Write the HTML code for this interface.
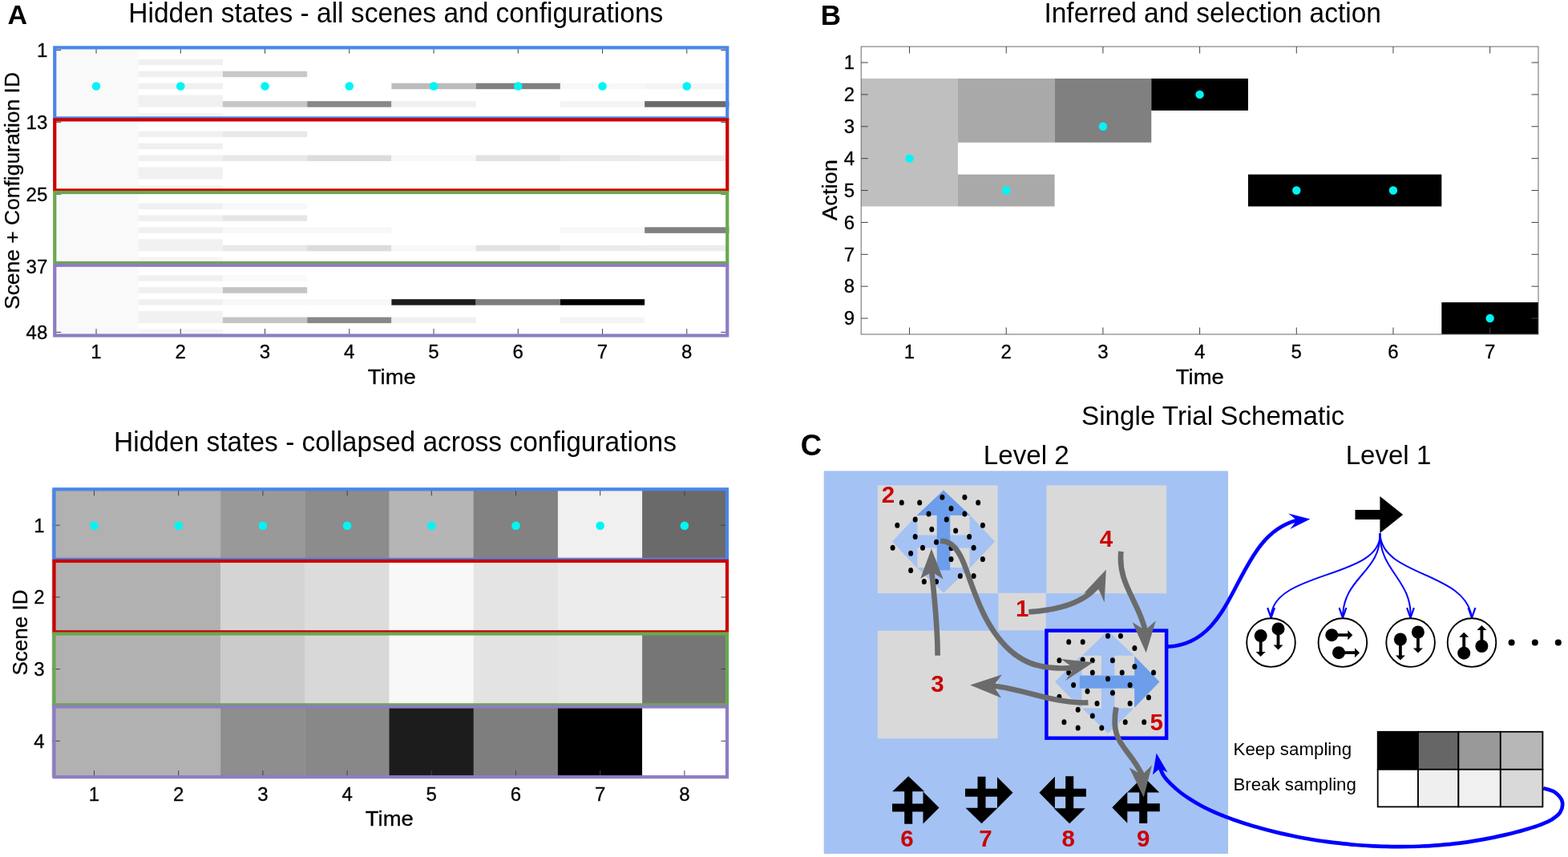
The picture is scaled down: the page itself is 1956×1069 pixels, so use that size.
<!DOCTYPE html>
<html lang="en">
<head>
<meta charset="utf-8">
<title>Hidden states, inferred actions and single trial schematic</title>
<style>
html,body{margin:0;padding:0;background:#fff;}
body{width:1956px;height:1069px;overflow:hidden;}
svg{display:block;font-family:"Liberation Sans",sans-serif;}
</style>
</head>
<body>
<svg width="1956" height="1069" viewBox="0 0 1956 1069">
<rect width="1956" height="1069" fill="#fff"/>
<g id="panelA-top">
<rect x="67.40" y="58.80" width="105.25" height="359.30" fill="#f9f9f9"/>
<rect x="172.65" y="73.77" width="105.25" height="7.49" fill="#f0f0f0"/>
<rect x="172.65" y="88.74" width="105.25" height="7.49" fill="#f0f0f0"/>
<rect x="277.90" y="88.74" width="105.25" height="7.49" fill="#c8c8c8"/>
<rect x="172.65" y="103.71" width="105.25" height="7.49" fill="#f0f0f0"/>
<rect x="488.40" y="103.71" width="105.25" height="7.49" fill="#bcbcbc"/>
<rect x="593.65" y="103.71" width="105.25" height="7.49" fill="#808080"/>
<rect x="698.90" y="103.71" width="105.25" height="7.49" fill="#f8f8f8"/>
<rect x="804.15" y="103.71" width="105.25" height="7.49" fill="#f4f4f4"/>
<rect x="172.65" y="118.68" width="105.25" height="14.97" fill="#f1f1f1"/>
<rect x="277.90" y="126.17" width="105.25" height="7.49" fill="#c6c6c6"/>
<rect x="383.15" y="126.17" width="105.25" height="7.49" fill="#888888"/>
<rect x="488.40" y="126.17" width="105.25" height="7.49" fill="#f0f0f0"/>
<rect x="698.90" y="126.17" width="105.25" height="7.49" fill="#f4f4f4"/>
<rect x="804.15" y="126.17" width="105.25" height="7.49" fill="#6a6a6a"/>
<rect x="172.65" y="141.14" width="105.25" height="7.49" fill="#f5f5f5"/>
<rect x="172.65" y="163.60" width="105.25" height="7.49" fill="#f0f0f0"/>
<rect x="277.90" y="163.60" width="105.25" height="7.49" fill="#e8e8e8"/>
<rect x="172.65" y="178.57" width="105.25" height="7.49" fill="#f0f0f0"/>
<rect x="172.65" y="193.54" width="105.25" height="7.49" fill="#f0f0f0"/>
<rect x="277.90" y="193.54" width="105.25" height="7.49" fill="#e8e8e8"/>
<rect x="383.15" y="193.54" width="105.25" height="7.49" fill="#dcdcdc"/>
<rect x="488.40" y="193.54" width="105.25" height="7.49" fill="#f8f8f8"/>
<rect x="593.65" y="193.54" width="105.25" height="7.49" fill="#e2e2e2"/>
<rect x="698.90" y="193.54" width="105.25" height="7.49" fill="#ebebeb"/>
<rect x="804.15" y="193.54" width="105.25" height="7.49" fill="#ececec"/>
<rect x="172.65" y="208.51" width="105.25" height="14.97" fill="#f1f1f1"/>
<rect x="172.65" y="230.96" width="105.25" height="7.49" fill="#f5f5f5"/>
<rect x="172.65" y="253.42" width="105.25" height="7.49" fill="#f0f0f0"/>
<rect x="277.90" y="253.42" width="105.25" height="7.49" fill="#f8f8f8"/>
<rect x="172.65" y="268.39" width="105.25" height="7.49" fill="#f0f0f0"/>
<rect x="277.90" y="268.39" width="105.25" height="7.49" fill="#e6e6e6"/>
<rect x="172.65" y="283.36" width="105.25" height="7.49" fill="#f0f0f0"/>
<rect x="277.90" y="283.36" width="105.25" height="7.49" fill="#f8f8f8"/>
<rect x="383.15" y="283.36" width="105.25" height="7.49" fill="#f8f8f8"/>
<rect x="698.90" y="283.36" width="105.25" height="7.49" fill="#f8f8f8"/>
<rect x="804.15" y="283.36" width="105.25" height="7.49" fill="#808080"/>
<rect x="172.65" y="298.33" width="105.25" height="14.97" fill="#f1f1f1"/>
<rect x="277.90" y="305.82" width="105.25" height="7.49" fill="#e8e8e8"/>
<rect x="383.15" y="305.82" width="105.25" height="7.49" fill="#dcdcdc"/>
<rect x="488.40" y="305.82" width="105.25" height="7.49" fill="#f8f8f8"/>
<rect x="593.65" y="305.82" width="105.25" height="7.49" fill="#e2e2e2"/>
<rect x="698.90" y="305.82" width="105.25" height="7.49" fill="#ebebeb"/>
<rect x="804.15" y="305.82" width="105.25" height="7.49" fill="#ececec"/>
<rect x="172.65" y="320.79" width="105.25" height="7.49" fill="#f5f5f5"/>
<rect x="172.65" y="343.25" width="105.25" height="7.49" fill="#f0f0f0"/>
<rect x="277.90" y="343.25" width="105.25" height="7.49" fill="#f9f9f9"/>
<rect x="172.65" y="358.22" width="105.25" height="7.49" fill="#f0f0f0"/>
<rect x="277.90" y="358.22" width="105.25" height="7.49" fill="#c4c4c4"/>
<rect x="172.65" y="373.19" width="105.25" height="7.49" fill="#f0f0f0"/>
<rect x="277.90" y="373.19" width="105.25" height="7.49" fill="#f8f8f8"/>
<rect x="383.15" y="373.19" width="105.25" height="7.49" fill="#f8f8f8"/>
<rect x="488.40" y="373.19" width="105.25" height="7.49" fill="#1c1c1c"/>
<rect x="593.65" y="373.19" width="105.25" height="7.49" fill="#7c7c7c"/>
<rect x="698.90" y="373.19" width="105.25" height="7.49" fill="#000000"/>
<rect x="172.65" y="388.16" width="105.25" height="14.97" fill="#f1f1f1"/>
<rect x="277.90" y="395.64" width="105.25" height="7.49" fill="#c4c4c4"/>
<rect x="383.15" y="395.64" width="105.25" height="7.49" fill="#888888"/>
<rect x="488.40" y="395.64" width="105.25" height="7.49" fill="#f0f0f0"/>
<rect x="698.90" y="395.64" width="105.25" height="7.49" fill="#f4f4f4"/>
<rect x="172.65" y="410.61" width="105.25" height="7.49" fill="#f5f5f5"/>
<path d="M120.03 58.8v8M120.03 418.1v-8" stroke="#404040" stroke-width="1" fill="none"/>
<path d="M225.28 58.8v8M225.28 418.1v-8" stroke="#404040" stroke-width="1" fill="none"/>
<path d="M330.52 58.8v8M330.52 418.1v-8" stroke="#404040" stroke-width="1" fill="none"/>
<path d="M435.77 58.8v8M435.77 418.1v-8" stroke="#404040" stroke-width="1" fill="none"/>
<path d="M541.02 58.8v8M541.02 418.1v-8" stroke="#404040" stroke-width="1" fill="none"/>
<path d="M646.27 58.8v8M646.27 418.1v-8" stroke="#404040" stroke-width="1" fill="none"/>
<path d="M751.52 58.8v8M751.52 418.1v-8" stroke="#404040" stroke-width="1" fill="none"/>
<path d="M856.77 58.8v8M856.77 418.1v-8" stroke="#404040" stroke-width="1" fill="none"/>
<path d="M68.25 62.54h8M907.25 62.54h-8" stroke="#404040" stroke-width="1" fill="none"/>
<path d="M68.25 152.37h8M907.25 152.37h-8" stroke="#404040" stroke-width="1" fill="none"/>
<path d="M68.25 242.19h8M907.25 242.19h-8" stroke="#404040" stroke-width="1" fill="none"/>
<path d="M68.25 332.02h8M907.25 332.02h-8" stroke="#404040" stroke-width="1" fill="none"/>
<path d="M68.25 414.36h8M907.25 414.36h-8" stroke="#404040" stroke-width="1" fill="none"/>
<circle cx="120.03" cy="107.46" r="5.3" fill="#00f5f5"/>
<circle cx="225.28" cy="107.46" r="5.3" fill="#00f5f5"/>
<circle cx="330.52" cy="107.46" r="5.3" fill="#00f5f5"/>
<circle cx="435.77" cy="107.46" r="5.3" fill="#00f5f5"/>
<circle cx="541.02" cy="107.46" r="5.3" fill="#00f5f5"/>
<circle cx="646.27" cy="107.46" r="5.3" fill="#00f5f5"/>
<circle cx="751.52" cy="107.46" r="5.3" fill="#00f5f5"/>
<circle cx="856.77" cy="107.46" r="5.3" fill="#00f5f5"/>
<rect x="68.25" y="59.4" width="839.0" height="88.0" fill="none" stroke="#4a86e8" stroke-width="4.2"/>
<rect x="68.25" y="149.4" width="839.0" height="88.0" fill="none" stroke="#cc0000" stroke-width="4.2"/>
<rect x="68.25" y="240" width="839.0" height="88" fill="none" stroke="#6aa84f" stroke-width="4.2"/>
<rect x="68.25" y="330.8" width="839.0" height="87.69999999999999" fill="none" stroke="#8e7cc3" stroke-width="4.2"/>
<text x="120.03" y="447.1" font-size="24" text-anchor="middle" font-weight="normal" fill="#000" stroke="#000" stroke-width="0.3">1</text>
<text x="225.28" y="447.1" font-size="24" text-anchor="middle" font-weight="normal" fill="#000" stroke="#000" stroke-width="0.3">2</text>
<text x="330.52" y="447.1" font-size="24" text-anchor="middle" font-weight="normal" fill="#000" stroke="#000" stroke-width="0.3">3</text>
<text x="435.77" y="447.1" font-size="24" text-anchor="middle" font-weight="normal" fill="#000" stroke="#000" stroke-width="0.3">4</text>
<text x="541.02" y="447.1" font-size="24" text-anchor="middle" font-weight="normal" fill="#000" stroke="#000" stroke-width="0.3">5</text>
<text x="646.27" y="447.1" font-size="24" text-anchor="middle" font-weight="normal" fill="#000" stroke="#000" stroke-width="0.3">6</text>
<text x="751.52" y="447.1" font-size="24" text-anchor="middle" font-weight="normal" fill="#000" stroke="#000" stroke-width="0.3">7</text>
<text x="856.77" y="447.1" font-size="24" text-anchor="middle" font-weight="normal" fill="#000" stroke="#000" stroke-width="0.3">8</text>
<text x="59.3" y="71.14" font-size="24" text-anchor="end" font-weight="normal" fill="#000" stroke="#000" stroke-width="0.3">1</text>
<text x="59.3" y="160.97" font-size="24" text-anchor="end" font-weight="normal" fill="#000" stroke="#000" stroke-width="0.3">13</text>
<text x="59.3" y="250.79" font-size="24" text-anchor="end" font-weight="normal" fill="#000" stroke="#000" stroke-width="0.3">25</text>
<text x="59.3" y="340.62" font-size="24" text-anchor="end" font-weight="normal" fill="#000" stroke="#000" stroke-width="0.3">37</text>
<text x="59.3" y="422.96" font-size="24" text-anchor="end" font-weight="normal" fill="#000" stroke="#000" stroke-width="0.3">48</text>
<text x="488.8" y="478.8" font-size="26" text-anchor="middle" font-weight="normal" fill="#000" textLength="60" lengthAdjust="spacingAndGlyphs" stroke="#000" stroke-width="0.3">Time</text>
<text transform="translate(24,238) rotate(-90)" font-size="26.5" stroke="#000" stroke-width="0.3" text-anchor="middle" textLength="296" lengthAdjust="spacingAndGlyphs">Scene + Configuration ID</text>
<text x="493.8" y="28" font-size="34.2" text-anchor="middle" font-weight="normal" fill="#000" textLength="667" lengthAdjust="spacingAndGlyphs">Hidden states - all scenes and configurations</text>
<text x="21.8" y="29.6" font-size="34" text-anchor="middle" font-weight="bold" fill="#000">A</text>
</g>
<g id="panelA-bottom">
<rect x="64.70" y="610.10" width="105.60" height="90.13" fill="#b1b1b1"/>
<rect x="169.90" y="610.10" width="105.60" height="90.13" fill="#b1b1b1"/>
<rect x="275.10" y="610.10" width="105.60" height="90.13" fill="#999999"/>
<rect x="380.30" y="610.10" width="105.60" height="90.13" fill="#8c8c8c"/>
<rect x="485.50" y="610.10" width="105.60" height="90.13" fill="#b5b5b5"/>
<rect x="590.70" y="610.10" width="105.60" height="90.13" fill="#828282"/>
<rect x="695.90" y="610.10" width="105.60" height="90.13" fill="#f0f0f0"/>
<rect x="801.10" y="610.10" width="105.60" height="90.13" fill="#6a6a6a"/>
<rect x="64.70" y="699.82" width="105.60" height="90.13" fill="#b1b1b1"/>
<rect x="169.90" y="699.82" width="105.60" height="90.13" fill="#b1b1b1"/>
<rect x="275.10" y="699.82" width="105.60" height="90.13" fill="#d4d4d4"/>
<rect x="380.30" y="699.82" width="105.60" height="90.13" fill="#dcdcdc"/>
<rect x="485.50" y="699.82" width="105.60" height="90.13" fill="#f8f8f8"/>
<rect x="590.70" y="699.82" width="105.60" height="90.13" fill="#e4e4e4"/>
<rect x="695.90" y="699.82" width="105.60" height="90.13" fill="#ececec"/>
<rect x="801.10" y="699.82" width="105.60" height="90.13" fill="#ededed"/>
<rect x="64.70" y="789.55" width="105.60" height="90.13" fill="#b1b1b1"/>
<rect x="169.90" y="789.55" width="105.60" height="90.13" fill="#b1b1b1"/>
<rect x="275.10" y="789.55" width="105.60" height="90.13" fill="#cbcbcb"/>
<rect x="380.30" y="789.55" width="105.60" height="90.13" fill="#d8d8d8"/>
<rect x="485.50" y="789.55" width="105.60" height="90.13" fill="#f8f8f8"/>
<rect x="590.70" y="789.55" width="105.60" height="90.13" fill="#e3e3e3"/>
<rect x="695.90" y="789.55" width="105.60" height="90.13" fill="#e6e6e6"/>
<rect x="801.10" y="789.55" width="105.60" height="90.13" fill="#767676"/>
<rect x="64.70" y="879.27" width="105.60" height="90.13" fill="#b1b1b1"/>
<rect x="169.90" y="879.27" width="105.60" height="90.13" fill="#b1b1b1"/>
<rect x="275.10" y="879.27" width="105.60" height="90.13" fill="#8e8e8e"/>
<rect x="380.30" y="879.27" width="105.60" height="90.13" fill="#888888"/>
<rect x="485.50" y="879.27" width="105.60" height="90.13" fill="#1c1c1c"/>
<rect x="590.70" y="879.27" width="105.60" height="90.13" fill="#7e7e7e"/>
<rect x="695.90" y="879.27" width="105.60" height="90.13" fill="#000000"/>
<rect x="801.10" y="879.27" width="105.60" height="90.13" fill="#ffffff"/>
<path d="M117.50 610.3v8M117.50 969.2v-8" stroke="#404040" stroke-width="1" fill="none"/>
<path d="M222.70 610.3v8M222.70 969.2v-8" stroke="#404040" stroke-width="1" fill="none"/>
<path d="M327.90 610.3v8M327.90 969.2v-8" stroke="#404040" stroke-width="1" fill="none"/>
<path d="M433.10 610.3v8M433.10 969.2v-8" stroke="#404040" stroke-width="1" fill="none"/>
<path d="M538.30 610.3v8M538.30 969.2v-8" stroke="#404040" stroke-width="1" fill="none"/>
<path d="M643.50 610.3v8M643.50 969.2v-8" stroke="#404040" stroke-width="1" fill="none"/>
<path d="M748.70 610.3v8M748.70 969.2v-8" stroke="#404040" stroke-width="1" fill="none"/>
<path d="M853.90 610.3v8M853.90 969.2v-8" stroke="#404040" stroke-width="1" fill="none"/>
<path d="M64.9 655.16h10M907.5 655.16h-8" stroke="#404040" stroke-width="1" fill="none"/>
<path d="M64.9 744.89h10M907.5 744.89h-8" stroke="#404040" stroke-width="1" fill="none"/>
<path d="M64.9 834.61h10M907.5 834.61h-8" stroke="#404040" stroke-width="1" fill="none"/>
<path d="M64.9 924.34h10M907.5 924.34h-8" stroke="#404040" stroke-width="1" fill="none"/>
<circle cx="117.50" cy="655.8" r="5.3" fill="#00f5f5"/>
<circle cx="222.70" cy="655.8" r="5.3" fill="#00f5f5"/>
<circle cx="327.90" cy="655.8" r="5.3" fill="#00f5f5"/>
<circle cx="433.10" cy="655.8" r="5.3" fill="#00f5f5"/>
<circle cx="538.30" cy="655.8" r="5.3" fill="#00f5f5"/>
<circle cx="643.50" cy="655.8" r="5.3" fill="#00f5f5"/>
<circle cx="748.70" cy="655.8" r="5.3" fill="#00f5f5"/>
<circle cx="853.90" cy="655.8" r="5.3" fill="#00f5f5"/>
<rect x="67.5" y="610.3" width="839.5" height="87.5" fill="none" stroke="#4a86e8" stroke-width="4.2"/>
<rect x="67.5" y="699.8" width="839.5" height="88.5" fill="none" stroke="#cc0000" stroke-width="4.2"/>
<rect x="67.5" y="790.5" width="839.5" height="88.79999999999995" fill="none" stroke="#6aa84f" stroke-width="4.2"/>
<rect x="67.5" y="881.5" width="839.5" height="87.70000000000005" fill="none" stroke="#8e7cc3" stroke-width="4.2"/>
<text x="117.50" y="999.3" font-size="24" text-anchor="middle" font-weight="normal" fill="#000" stroke="#000" stroke-width="0.3">1</text>
<text x="222.70" y="999.3" font-size="24" text-anchor="middle" font-weight="normal" fill="#000" stroke="#000" stroke-width="0.3">2</text>
<text x="327.90" y="999.3" font-size="24" text-anchor="middle" font-weight="normal" fill="#000" stroke="#000" stroke-width="0.3">3</text>
<text x="433.10" y="999.3" font-size="24" text-anchor="middle" font-weight="normal" fill="#000" stroke="#000" stroke-width="0.3">4</text>
<text x="538.30" y="999.3" font-size="24" text-anchor="middle" font-weight="normal" fill="#000" stroke="#000" stroke-width="0.3">5</text>
<text x="643.50" y="999.3" font-size="24" text-anchor="middle" font-weight="normal" fill="#000" stroke="#000" stroke-width="0.3">6</text>
<text x="748.70" y="999.3" font-size="24" text-anchor="middle" font-weight="normal" fill="#000" stroke="#000" stroke-width="0.3">7</text>
<text x="853.90" y="999.3" font-size="24" text-anchor="middle" font-weight="normal" fill="#000" stroke="#000" stroke-width="0.3">8</text>
<text x="55.5" y="663.76" font-size="24" text-anchor="end" font-weight="normal" fill="#000" stroke="#000" stroke-width="0.3">1</text>
<text x="55.5" y="753.49" font-size="24" text-anchor="end" font-weight="normal" fill="#000" stroke="#000" stroke-width="0.3">2</text>
<text x="55.5" y="843.21" font-size="24" text-anchor="end" font-weight="normal" fill="#000" stroke="#000" stroke-width="0.3">3</text>
<text x="55.5" y="932.94" font-size="24" text-anchor="end" font-weight="normal" fill="#000" stroke="#000" stroke-width="0.3">4</text>
<text x="485.8" y="1030.3" font-size="26" text-anchor="middle" font-weight="normal" fill="#000" textLength="60" lengthAdjust="spacingAndGlyphs" stroke="#000" stroke-width="0.3">Time</text>
<text transform="translate(33.5,789) rotate(-90)" font-size="26.5" stroke="#000" stroke-width="0.3" text-anchor="middle" textLength="107" lengthAdjust="spacingAndGlyphs">Scene ID</text>
<text x="493" y="563.3" font-size="34.2" text-anchor="middle" font-weight="normal" fill="#000" textLength="702" lengthAdjust="spacingAndGlyphs">Hidden states - collapsed across configurations</text>
</g>
<g id="panelB">
<rect x="1074.20" y="97.98" width="120.69" height="159.51" fill="#bfbfbf"/>
<rect x="1194.89" y="97.98" width="120.69" height="79.76" fill="#a9a9a9"/>
<rect x="1194.89" y="217.61" width="120.69" height="39.88" fill="#a9a9a9"/>
<rect x="1315.57" y="97.98" width="120.69" height="79.76" fill="#808080"/>
<rect x="1436.26" y="97.98" width="120.69" height="39.88" fill="#000"/>
<rect x="1556.94" y="217.61" width="241.37" height="39.88" fill="#000"/>
<rect x="1798.31" y="377.12" width="120.69" height="39.88" fill="#000"/>
<rect x="1074.2" y="58.1" width="844.8" height="358.9" fill="none" stroke="#6a6a6a" stroke-width="1"/>
<path d="M1134.54 58.1v8.5M1134.54 417.0v-8.5" stroke="#404040" stroke-width="1" fill="none"/>
<path d="M1255.23 58.1v8.5M1255.23 417.0v-8.5" stroke="#404040" stroke-width="1" fill="none"/>
<path d="M1375.91 58.1v8.5M1375.91 417.0v-8.5" stroke="#404040" stroke-width="1" fill="none"/>
<path d="M1496.60 58.1v8.5M1496.60 417.0v-8.5" stroke="#404040" stroke-width="1" fill="none"/>
<path d="M1617.29 58.1v8.5M1617.29 417.0v-8.5" stroke="#404040" stroke-width="1" fill="none"/>
<path d="M1737.97 58.1v8.5M1737.97 417.0v-8.5" stroke="#404040" stroke-width="1" fill="none"/>
<path d="M1858.66 58.1v8.5M1858.66 417.0v-8.5" stroke="#404040" stroke-width="1" fill="none"/>
<path d="M1074.2 78.04h8.5M1919.0 78.04h-8.5" stroke="#404040" stroke-width="1" fill="none"/>
<path d="M1074.2 117.92h8.5M1919.0 117.92h-8.5" stroke="#404040" stroke-width="1" fill="none"/>
<path d="M1074.2 157.79h8.5M1919.0 157.79h-8.5" stroke="#404040" stroke-width="1" fill="none"/>
<path d="M1074.2 197.67h8.5M1919.0 197.67h-8.5" stroke="#404040" stroke-width="1" fill="none"/>
<path d="M1074.2 237.55h8.5M1919.0 237.55h-8.5" stroke="#404040" stroke-width="1" fill="none"/>
<path d="M1074.2 277.43h8.5M1919.0 277.43h-8.5" stroke="#404040" stroke-width="1" fill="none"/>
<path d="M1074.2 317.31h8.5M1919.0 317.31h-8.5" stroke="#404040" stroke-width="1" fill="none"/>
<path d="M1074.2 357.18h8.5M1919.0 357.18h-8.5" stroke="#404040" stroke-width="1" fill="none"/>
<path d="M1074.2 397.06h8.5M1919.0 397.06h-8.5" stroke="#404040" stroke-width="1" fill="none"/>
<circle cx="1134.54" cy="197.67" r="5.2" fill="#00f5f5"/>
<circle cx="1255.23" cy="237.55" r="5.2" fill="#00f5f5"/>
<circle cx="1375.91" cy="157.79" r="5.2" fill="#00f5f5"/>
<circle cx="1496.60" cy="117.92" r="5.2" fill="#00f5f5"/>
<circle cx="1617.29" cy="237.55" r="5.2" fill="#00f5f5"/>
<circle cx="1737.97" cy="237.55" r="5.2" fill="#00f5f5"/>
<circle cx="1858.66" cy="397.06" r="5.2" fill="#00f5f5"/>
<text x="1134.54" y="447.1" font-size="24" text-anchor="middle" font-weight="normal" fill="#000" stroke="#000" stroke-width="0.3">1</text>
<text x="1255.23" y="447.1" font-size="24" text-anchor="middle" font-weight="normal" fill="#000" stroke="#000" stroke-width="0.3">2</text>
<text x="1375.91" y="447.1" font-size="24" text-anchor="middle" font-weight="normal" fill="#000" stroke="#000" stroke-width="0.3">3</text>
<text x="1496.60" y="447.1" font-size="24" text-anchor="middle" font-weight="normal" fill="#000" stroke="#000" stroke-width="0.3">4</text>
<text x="1617.29" y="447.1" font-size="24" text-anchor="middle" font-weight="normal" fill="#000" stroke="#000" stroke-width="0.3">5</text>
<text x="1737.97" y="447.1" font-size="24" text-anchor="middle" font-weight="normal" fill="#000" stroke="#000" stroke-width="0.3">6</text>
<text x="1858.66" y="447.1" font-size="24" text-anchor="middle" font-weight="normal" fill="#000" stroke="#000" stroke-width="0.3">7</text>
<text x="1066" y="86.34" font-size="24" text-anchor="end" font-weight="normal" fill="#000" stroke="#000" stroke-width="0.3">1</text>
<text x="1066" y="126.22" font-size="24" text-anchor="end" font-weight="normal" fill="#000" stroke="#000" stroke-width="0.3">2</text>
<text x="1066" y="166.09" font-size="24" text-anchor="end" font-weight="normal" fill="#000" stroke="#000" stroke-width="0.3">3</text>
<text x="1066" y="205.97" font-size="24" text-anchor="end" font-weight="normal" fill="#000" stroke="#000" stroke-width="0.3">4</text>
<text x="1066" y="245.85" font-size="24" text-anchor="end" font-weight="normal" fill="#000" stroke="#000" stroke-width="0.3">5</text>
<text x="1066" y="285.73" font-size="24" text-anchor="end" font-weight="normal" fill="#000" stroke="#000" stroke-width="0.3">6</text>
<text x="1066" y="325.61" font-size="24" text-anchor="end" font-weight="normal" fill="#000" stroke="#000" stroke-width="0.3">7</text>
<text x="1066" y="365.48" font-size="24" text-anchor="end" font-weight="normal" fill="#000" stroke="#000" stroke-width="0.3">8</text>
<text x="1066" y="405.36" font-size="24" text-anchor="end" font-weight="normal" fill="#000" stroke="#000" stroke-width="0.3">9</text>
<text x="1496.8" y="478.8" font-size="26" text-anchor="middle" font-weight="normal" fill="#000" textLength="60" lengthAdjust="spacingAndGlyphs" stroke="#000" stroke-width="0.3">Time</text>
<text transform="translate(1043.8,237) rotate(-90)" font-size="26.5" stroke="#000" stroke-width="0.3" text-anchor="middle" textLength="76" lengthAdjust="spacingAndGlyphs">Action</text>
<text x="1512.7" y="28" font-size="34.2" text-anchor="middle" font-weight="normal" fill="#000" textLength="420.5" lengthAdjust="spacingAndGlyphs">Inferred and selection action</text>
<text x="1036.3" y="30.8" font-size="35" text-anchor="middle" font-weight="bold" fill="#000">B</text>
</g>
<g id="panelC">
<rect x="1027.70" y="587.40" width="504.30" height="477.60" fill="#a4c2f4"/>
<rect x="1094.80" y="605.40" width="149.80" height="134.80" fill="#d9d9d9"/>
<rect x="1305.40" y="605.40" width="149.80" height="134.80" fill="#d9d9d9"/>
<rect x="1094.80" y="786.60" width="149.80" height="134.60" fill="#d9d9d9"/>
<rect x="1245.40" y="739.80" width="59.40" height="46.50" fill="#d9d9d9"/>
<rect x="1305.40" y="786.60" width="149.70" height="134.10" fill="#d9d9d9"/>
<polygon points="1185.2,667.4 1209.6,667.4 1209.6,642.3 1241.0,675.5 1209.6,708.7 1209.6,683.6 1185.2,683.6 1185.2,683.6 1185.2,708.1 1210.2,708.1 1177.0,739.5 1143.8,708.1 1168.8,708.1 1168.8,683.6 1168.8,683.6 1144.4,683.6 1144.4,708.7 1113.0,675.5 1144.4,642.3 1144.4,667.4 1168.8,667.4 1168.8,667.4 1168.8,642.9 1143.8,642.9 1177.0,611.5 1210.2,642.9 1185.2,642.9 1185.2,667.4" fill="#a4c2f4"/>
<polygon points="1177.0,611.5 1210.2,642.8 1185.2,642.8 1185.2,711.2 1168.8,711.2 1168.8,642.8 1143.8,642.8" fill="#6d9eeb"/>
<polygon points="1390.4,842.4 1415.0,842.4 1415.0,818.4 1446.4,850.6 1415.0,882.8 1415.0,858.8 1390.4,858.8 1390.4,858.8 1390.4,883.4 1414.4,883.4 1382.2,914.8 1350.0,883.4 1374.0,883.4 1374.0,858.8 1374.0,858.8 1349.4,858.8 1349.4,882.8 1318.0,850.6 1349.4,818.4 1349.4,842.4 1374.0,842.4 1374.0,842.4 1374.0,817.8 1350.0,817.8 1382.2,786.4 1414.4,817.8 1390.4,817.8 1390.4,842.4" fill="#a4c2f4"/>
<polygon points="1316.0,850.6 1347.6,818.4 1347.6,842.4 1376.0,842.4 1376.0,858.8 1347.6,858.8 1347.6,882.8" fill="#a4c2f4"/>
<polygon points="1446.4,850.6 1415.3,882.6 1415.3,858.5 1346.8,858.5 1346.8,842.7 1415.3,842.7 1415.3,818.6" fill="#6d9eeb"/>
<ellipse cx="1175.4" cy="620.3" rx="3.0" ry="3.5" fill="#000"/>
<ellipse cx="1203.4" cy="620.3" rx="3.0" ry="3.5" fill="#000"/>
<ellipse cx="1124.8" cy="627.1" rx="3.0" ry="3.5" fill="#000"/>
<ellipse cx="1147.2" cy="627.1" rx="3.0" ry="3.5" fill="#000"/>
<ellipse cx="1220.2" cy="627.1" rx="3.0" ry="3.5" fill="#000"/>
<ellipse cx="1186.5" cy="634.2" rx="3.0" ry="3.5" fill="#000"/>
<ellipse cx="1158.5" cy="640.9" rx="3.0" ry="3.5" fill="#000"/>
<ellipse cx="1203.4" cy="640.9" rx="3.0" ry="3.5" fill="#000"/>
<ellipse cx="1141.7" cy="648.0" rx="3.0" ry="3.5" fill="#000"/>
<ellipse cx="1180.8" cy="648.0" rx="3.0" ry="3.5" fill="#000"/>
<ellipse cx="1119.3" cy="655.2" rx="3.0" ry="3.5" fill="#000"/>
<ellipse cx="1225.9" cy="655.2" rx="3.0" ry="3.5" fill="#000"/>
<ellipse cx="1162.3" cy="660.3" rx="3.0" ry="3.5" fill="#000"/>
<ellipse cx="1192.1" cy="662.1" rx="3.0" ry="3.5" fill="#000"/>
<ellipse cx="1141.7" cy="669.4" rx="3.0" ry="3.5" fill="#000"/>
<ellipse cx="1209.1" cy="669.4" rx="3.0" ry="3.5" fill="#000"/>
<ellipse cx="1168.0" cy="676.3" rx="3.0" ry="3.5" fill="#000"/>
<ellipse cx="1113.6" cy="683.3" rx="3.0" ry="3.5" fill="#000"/>
<ellipse cx="1151.0" cy="683.3" rx="3.0" ry="3.5" fill="#000"/>
<ellipse cx="1186.5" cy="683.8" rx="3.0" ry="3.5" fill="#000"/>
<ellipse cx="1214.6" cy="683.3" rx="3.0" ry="3.5" fill="#000"/>
<ellipse cx="1136.1" cy="690.3" rx="3.0" ry="3.5" fill="#000"/>
<ellipse cx="1186.5" cy="697.4" rx="3.0" ry="3.5" fill="#000"/>
<ellipse cx="1225.9" cy="697.4" rx="3.0" ry="3.5" fill="#000"/>
<ellipse cx="1136.1" cy="711.5" rx="3.0" ry="3.5" fill="#000"/>
<ellipse cx="1197.8" cy="718.4" rx="3.0" ry="3.5" fill="#000"/>
<ellipse cx="1214.6" cy="718.4" rx="3.0" ry="3.5" fill="#000"/>
<ellipse cx="1152.8" cy="725.4" rx="3.0" ry="3.5" fill="#000"/>
<ellipse cx="1168.0" cy="725.4" rx="3.0" ry="3.5" fill="#000"/>
<ellipse cx="1382.0" cy="793.2" rx="3.0" ry="3.5" fill="#000"/>
<ellipse cx="1397.9" cy="793.2" rx="3.0" ry="3.5" fill="#000"/>
<ellipse cx="1333.2" cy="800.7" rx="3.0" ry="3.5" fill="#000"/>
<ellipse cx="1350.7" cy="800.7" rx="3.0" ry="3.5" fill="#000"/>
<ellipse cx="1415.4" cy="808.5" rx="3.0" ry="3.5" fill="#000"/>
<ellipse cx="1321.4" cy="823.7" rx="3.0" ry="3.5" fill="#000"/>
<ellipse cx="1350.7" cy="823.1" rx="3.0" ry="3.5" fill="#000"/>
<ellipse cx="1362.8" cy="823.7" rx="3.0" ry="3.5" fill="#000"/>
<ellipse cx="1387.9" cy="823.7" rx="3.0" ry="3.5" fill="#000"/>
<ellipse cx="1415.4" cy="831.5" rx="3.0" ry="3.5" fill="#000"/>
<ellipse cx="1333.2" cy="839.0" rx="3.0" ry="3.5" fill="#000"/>
<ellipse cx="1362.8" cy="839.0" rx="3.0" ry="3.5" fill="#000"/>
<ellipse cx="1399.7" cy="839.0" rx="3.0" ry="3.5" fill="#000"/>
<ellipse cx="1439.0" cy="839.0" rx="3.0" ry="3.5" fill="#000"/>
<ellipse cx="1382.0" cy="846.8" rx="3.0" ry="3.5" fill="#000"/>
<ellipse cx="1339.1" cy="854.6" rx="3.0" ry="3.5" fill="#000"/>
<ellipse cx="1409.6" cy="854.6" rx="3.0" ry="3.5" fill="#000"/>
<ellipse cx="1356.5" cy="862.2" rx="3.0" ry="3.5" fill="#000"/>
<ellipse cx="1387.9" cy="864.3" rx="3.0" ry="3.5" fill="#000"/>
<ellipse cx="1321.4" cy="869.2" rx="3.0" ry="3.5" fill="#000"/>
<ellipse cx="1432.9" cy="869.9" rx="3.0" ry="3.5" fill="#000"/>
<ellipse cx="1368.5" cy="877.6" rx="3.0" ry="3.5" fill="#000"/>
<ellipse cx="1409.6" cy="877.6" rx="3.0" ry="3.5" fill="#000"/>
<ellipse cx="1344.7" cy="885.2" rx="3.0" ry="3.5" fill="#000"/>
<ellipse cx="1362.8" cy="892.9" rx="3.0" ry="3.5" fill="#000"/>
<ellipse cx="1327.4" cy="900.7" rx="3.0" ry="3.5" fill="#000"/>
<ellipse cx="1403.7" cy="900.7" rx="3.0" ry="3.5" fill="#000"/>
<ellipse cx="1427.2" cy="900.7" rx="3.0" ry="3.5" fill="#000"/>
<ellipse cx="1344.7" cy="908.1" rx="3.0" ry="3.5" fill="#000"/>
<ellipse cx="1374.3" cy="908.1" rx="3.0" ry="3.5" fill="#000"/>
<rect x="1305.4" y="786.6" width="149.7" height="134.1" fill="none" stroke="#0000ff" stroke-width="4.5"/>
<text x="1108" y="627.0" font-size="29.5" text-anchor="middle" font-weight="bold" fill="#cc0000">2</text>
<text x="1380" y="682.2" font-size="29.5" text-anchor="middle" font-weight="bold" fill="#cc0000">4</text>
<text x="1275.2" y="769" font-size="29.5" text-anchor="middle" font-weight="bold" fill="#cc0000">1</text>
<text x="1169.4" y="863.0" font-size="29.5" text-anchor="middle" font-weight="bold" fill="#cc0000">3</text>
<text x="1442.7" y="910.5" font-size="29.5" text-anchor="middle" font-weight="bold" fill="#cc0000">5</text>
<text x="1131.5" y="1055.8" font-size="29.5" text-anchor="middle" font-weight="bold" fill="#cc0000">6</text>
<text x="1229.5" y="1055.8" font-size="29.5" text-anchor="middle" font-weight="bold" fill="#cc0000">7</text>
<text x="1332.7" y="1055.8" font-size="29.5" text-anchor="middle" font-weight="bold" fill="#cc0000">8</text>
<text x="1426.3" y="1055.8" font-size="29.5" text-anchor="middle" font-weight="bold" fill="#cc0000">9</text>
<polygon points="1133.2,968.3 1153.2,987.3 1138.2,987.3 1138.2,1027.8 1128.2,1027.8 1128.2,987.3 1113.2,987.3" fill="#000"/>
<polygon points="1171.5,1007.5 1151.5,1027.5 1151.5,1012.5 1113.0,1012.5 1113.0,1002.5 1151.5,1002.5 1151.5,987.5" fill="#000"/>
<polygon points="1263.5,988.7 1244.0,1008.2 1244.0,993.7 1204.0,993.7 1204.0,983.7 1244.0,983.7 1244.0,969.2" fill="#000"/>
<polygon points="1224.5,1027.3 1204.5,1007.8 1219.5,1007.8 1219.5,968.8 1229.5,968.8 1229.5,1007.8 1244.5,1007.8" fill="#000"/>
<polygon points="1296.4,988.7 1315.9,968.7 1315.9,983.7 1354.9,983.7 1354.9,993.7 1315.9,993.7 1315.9,1008.7" fill="#000"/>
<polygon points="1334.2,1027.3 1314.7,1008.3 1329.2,1008.3 1329.2,968.3 1339.2,968.3 1339.2,1008.3 1353.7,1008.3" fill="#000"/>
<polygon points="1387.3,1007.3 1406.3,987.8 1406.3,1002.3 1446.8,1002.3 1446.8,1012.3 1406.3,1012.3 1406.3,1026.8" fill="#000"/>
<polygon points="1426.2,968.5 1446.2,988.5 1431.2,988.5 1431.2,1027.0 1421.2,1027.0 1421.2,988.5 1406.2,988.5" fill="#000"/>
<path d="M1169.6 817.8C1169.9 782.9 1165.8 748.2 1162.4 713.5L1162.3 707.7" fill="none" stroke="#6b6b6b" stroke-width="6.7" stroke-linejoin="round"/>
<polygon points="1161.9,684.4 1148.2,721.8 1162.4,713.5 1176.7,722.6" fill="#6b6b6b"/>
<path d="M1173.2 674.7C1174.4 674.9 1178.1 675.1 1180.2 675.7C1182.3 676.4 1184.2 677.4 1186.0 678.6C1187.7 679.8 1189.3 681.3 1190.8 682.8C1192.2 684.4 1193.5 686.1 1194.7 687.9C1195.9 689.7 1197.0 691.6 1198.1 693.5C1199.1 695.4 1200.0 697.4 1200.9 699.4C1201.8 701.5 1202.7 703.5 1203.5 705.6C1204.3 707.7 1205.0 709.8 1205.8 712.0C1206.6 714.1 1207.3 716.2 1208.1 718.3C1208.8 720.4 1209.6 722.5 1210.3 724.6C1211.1 726.7 1211.9 728.8 1212.6 730.9C1213.4 732.9 1214.2 735.0 1214.9 737.1C1215.7 739.2 1216.5 741.2 1217.3 743.3C1218.1 745.3 1218.9 747.4 1219.8 749.4C1220.6 751.4 1221.5 753.5 1222.3 755.5C1223.2 757.5 1224.1 759.5 1225.0 761.5C1226.0 763.5 1226.9 765.4 1227.9 767.4C1228.9 769.4 1229.9 771.3 1231.0 773.3C1232.0 775.2 1233.1 777.1 1234.2 779.0C1235.4 780.9 1236.5 782.8 1237.7 784.7C1239.0 786.6 1240.2 788.4 1241.5 790.2C1242.8 792.0 1244.1 793.8 1245.5 795.6C1246.8 797.3 1248.2 799.0 1249.7 800.7C1251.1 802.4 1252.6 804.0 1254.1 805.6C1255.7 807.2 1257.2 808.7 1258.9 810.2C1260.5 811.7 1262.1 813.1 1263.8 814.5C1265.5 815.8 1267.3 817.1 1269.1 818.4C1270.9 819.6 1272.7 820.8 1274.6 821.9C1276.4 823.0 1278.4 824.0 1280.3 824.9C1282.3 825.9 1284.3 826.7 1286.4 827.5C1288.4 828.3 1290.5 829.0 1292.7 829.6C1294.8 830.2 1297.0 830.7 1299.2 831.1C1301.4 831.5 1303.7 831.9 1305.9 832.2C1308.2 832.5 1310.5 832.7 1312.7 832.9C1315.0 833.1 1317.3 833.2 1319.5 833.3C1321.8 833.4 1324.0 833.5 1326.2 833.5C1328.4 833.5 1330.6 833.5 1332.8 833.4C1334.9 833.3 1337.1 833.2 1339.2 832.9C1341.3 832.6 1344.5 831.8 1345.5 831.6" fill="none" stroke="#6b6b6b" stroke-width="6.7" stroke-linejoin="round"/>
<polygon points="1363.7,826.2 1323.6,822.0 1339.5,833.4 1329.2,849.1" fill="#6b6b6b"/>
<path d="M1283.3 763.3L1285.0 763.2L1286.6 763.1L1288.3 762.9L1290.0 762.8L1291.8 762.6L1293.5 762.5L1295.2 762.3L1297.0 762.1L1298.7 761.9L1300.5 761.7L1302.2 761.4L1304.0 761.2L1305.7 760.9L1307.5 760.6L1309.3 760.3L1311.1 760.0L1312.8 759.7L1314.6 759.3L1316.4 758.9L1318.1 758.5L1319.9 758.1L1321.6 757.7L1323.4 757.2L1325.1 756.8L1326.9 756.3L1328.6 755.8L1330.3 755.2L1332.0 754.7L1333.7 754.1L1335.4 753.5L1337.1 752.8L1338.7 752.2L1340.4 751.5L1342.0 750.7L1343.6 750.0L1345.2 749.2L1346.7 748.4L1348.3 747.6L1349.8 746.8L1351.3 745.9L1352.8 745.0L1354.3 744.0L1355.7 743.1L1357.1 742.1L1358.5 741.0L1359.8 740.0L1361.2 738.9L1362.5 737.7L1363.7 736.6L1365.0 735.4L1366.2 734.1L1367.3 732.9L1368.5 731.6L1369.4 730.4" fill="none" stroke="#6b6b6b" stroke-width="6.7" stroke-linejoin="round"/>
<polygon points="1379.8,710.5 1352.1,740.0 1370.6,735.3 1377.7,751.6" fill="#6b6b6b"/>
<path d="M1398.4 687.9C1394.1 727.1 1420.1 749.9 1428.5 786.0L1428.7 791.6" fill="none" stroke="#6b6b6b" stroke-width="6.7" stroke-linejoin="round"/>
<polygon points="1429.7,814.2 1412.6,776.3 1428.5,786.0 1441.8,774.2" fill="#6b6b6b"/>
<path d="M1357.4 876.4C1316.7 878.1 1279.2 860.3 1239.4 855.5L1233.6 855.3" fill="none" stroke="#6b6b6b" stroke-width="6.7" stroke-linejoin="round"/>
<polygon points="1210.2,854.4 1249.9,841.6 1239.4,855.5 1249.1,870.4" fill="#6b6b6b"/>
<path d="M1392.3 882.3C1383.9 928.2 1407.8 931.0 1424.6 966.5L1425.0 972.1" fill="none" stroke="#6b6b6b" stroke-width="6.7" stroke-linejoin="round"/>
<polygon points="1426.7,994.5 1408.7,957.5 1424.6,966.5 1437.0,954.6" fill="#6b6b6b"/>
<path d="M1456.7 806.6C1546.5 802.7 1537.0 670.1 1617.7 649.1L1621.0 648.8" fill="none" stroke="#0000ff" stroke-width="4.7" stroke-linejoin="round"/>
<polygon points="1634.4,647.6 1607.3,640.6 1617.7,649.1 1609.3,659.9" fill="#0000ff"/>
<path d="M1925.2 983.3C1927.6 984.1 1935.6 985.4 1939.5 988.1C1943.4 990.9 1947.6 995.4 1948.7 999.6C1949.8 1003.8 1948.6 1009.4 1946.2 1013.3C1943.9 1017.2 1938.7 1020.4 1934.5 1023.1C1930.2 1025.7 1925.4 1027.3 1920.7 1029.1C1916.0 1030.9 1911.3 1032.3 1906.5 1033.7C1901.7 1035.2 1896.9 1036.5 1892.1 1037.8C1887.3 1039.1 1882.5 1040.3 1877.6 1041.4C1872.8 1042.5 1867.9 1043.6 1863.0 1044.6C1858.1 1045.6 1853.3 1046.5 1848.4 1047.4C1843.5 1048.3 1838.6 1049.1 1833.6 1049.8C1828.7 1050.5 1823.8 1051.2 1818.8 1051.8C1813.9 1052.4 1809.0 1052.9 1804.0 1053.4C1799.1 1053.9 1794.1 1054.3 1789.1 1054.6C1784.2 1055.0 1779.2 1055.3 1774.2 1055.5C1769.3 1055.7 1764.3 1055.9 1759.3 1056.0C1754.3 1056.1 1749.3 1056.2 1744.4 1056.1C1739.4 1056.1 1734.4 1056.1 1729.4 1055.9C1724.4 1055.8 1719.4 1055.6 1714.5 1055.4C1709.5 1055.1 1704.5 1054.9 1699.5 1054.5C1694.6 1054.2 1689.6 1053.7 1684.6 1053.3C1679.7 1052.8 1674.7 1052.3 1669.8 1051.7C1664.8 1051.2 1659.9 1050.6 1654.9 1049.9C1650.0 1049.2 1645.1 1048.5 1640.1 1047.7C1635.2 1046.9 1630.3 1046.1 1625.4 1045.2C1620.5 1044.3 1615.6 1043.3 1610.8 1042.3C1605.9 1041.3 1601.0 1040.2 1596.2 1039.1C1591.3 1037.9 1586.5 1036.7 1581.7 1035.5C1576.9 1034.2 1572.1 1032.9 1567.3 1031.5C1562.5 1030.2 1557.7 1028.7 1553.0 1027.2C1548.3 1025.7 1543.5 1024.1 1538.8 1022.5C1534.1 1020.8 1529.5 1019.1 1524.9 1017.2C1520.2 1015.4 1515.7 1013.4 1511.2 1011.3C1506.6 1009.3 1502.2 1007.1 1497.8 1004.7C1493.4 1002.3 1489.0 999.8 1484.8 997.1C1480.6 994.4 1476.5 991.6 1472.5 988.5C1468.6 985.5 1464.8 982.2 1461.3 978.7C1457.8 975.2 1454.1 971.6 1451.5 967.5C1448.9 963.3 1446.5 956.2 1445.5 954.0" fill="none" stroke="#0000ff" stroke-width="4.7" stroke-linejoin="round"/>
<polygon points="1442.6,939.6 1438.0,966.3 1446.5,958.8 1456.5,963.3" fill="#0000ff"/>
<polygon points="1750.2,642.0 1721.4,665.0 1721.4,647.9 1690.5,647.9 1690.5,636.1 1721.4,636.1 1721.4,619.0" fill="#000"/>
<path d="M1721.5 665.4C1724.7 722.1 1585.8 711.5 1585.6 770.3" fill="none" stroke="#0000ff" stroke-width="2"/>
<path d="M1581.2 758.2L1585.6 770.6L1590.0 758.2" fill="none" stroke="#0000ff" stroke-width="2.2" stroke-linejoin="miter"/>
<path d="M1721.5 665.4C1723.1 714.3 1675.2 719.2 1675.0 770.3" fill="none" stroke="#0000ff" stroke-width="2"/>
<path d="M1670.6 758.2L1675.0 770.6L1679.4 758.2" fill="none" stroke="#0000ff" stroke-width="2.2" stroke-linejoin="miter"/>
<path d="M1721.5 665.4C1720.7 712.1 1761.9 723.4 1759.5 770.3" fill="none" stroke="#0000ff" stroke-width="2"/>
<path d="M1755.1 758.2L1759.5 770.6L1763.9 758.2" fill="none" stroke="#0000ff" stroke-width="2.2" stroke-linejoin="miter"/>
<path d="M1721.5 665.4C1723.1 719.7 1828.7 712.4 1836.0 770.3" fill="none" stroke="#0000ff" stroke-width="2"/>
<path d="M1831.6 758.2L1836.0 770.6L1840.4 758.2" fill="none" stroke="#0000ff" stroke-width="2.2" stroke-linejoin="miter"/>
<circle cx="1585.5" cy="801.6" r="30.3" fill="#fff" stroke="#000" stroke-width="1.9"/>
<circle cx="1674.9" cy="801.6" r="30.3" fill="#fff" stroke="#000" stroke-width="1.9"/>
<circle cx="1759.6" cy="801.6" r="30.3" fill="#fff" stroke="#000" stroke-width="1.9"/>
<circle cx="1836" cy="801.6" r="30.3" fill="#fff" stroke="#000" stroke-width="1.9"/>
<circle cx="1572.7" cy="793.1" r="8" fill="#000"/>
<polygon points="1572.7,819.1 1566.7,813.1 1570.8,813.1 1570.8,793.1 1574.6,793.1 1574.6,813.1 1578.7,813.1" fill="#000"/>
<circle cx="1594.5" cy="784.4" r="8" fill="#000"/>
<polygon points="1594.5,810.4 1588.5,804.4 1592.6,804.4 1592.6,784.4 1596.4,784.4 1596.4,804.4 1600.5,804.4" fill="#000"/>
<circle cx="1661.3" cy="792.2" r="8" fill="#000"/>
<polygon points="1687.3,792.2 1681.3,798.2 1681.3,794.1 1661.3,794.1 1661.3,790.3 1681.3,790.3 1681.3,786.2" fill="#000"/>
<circle cx="1670" cy="814.2" r="8" fill="#000"/>
<polygon points="1696.0,814.2 1690.0,820.2 1690.0,816.1 1670.0,816.1 1670.0,812.3 1690.0,812.3 1690.0,808.2" fill="#000"/>
<circle cx="1746.9" cy="797.5" r="8" fill="#000"/>
<polygon points="1746.9,823.5 1740.9,817.5 1745.0,817.5 1745.0,797.5 1748.8,797.5 1748.8,817.5 1752.9,817.5" fill="#000"/>
<circle cx="1768.9" cy="788.5" r="8" fill="#000"/>
<polygon points="1768.9,814.5 1762.9,808.5 1767.0,808.5 1767.0,788.5 1770.8,788.5 1770.8,808.5 1774.9,808.5" fill="#000"/>
<circle cx="1826.2" cy="814.7" r="8" fill="#000"/>
<polygon points="1826.2,788.7 1832.2,794.7 1828.1,794.7 1828.1,814.7 1824.3,814.7 1824.3,794.7 1820.2,794.7" fill="#000"/>
<circle cx="1848.4" cy="806" r="8" fill="#000"/>
<polygon points="1848.4,780.0 1854.4,786.0 1850.3,786.0 1850.3,806.0 1846.5,806.0 1846.5,786.0 1842.4,786.0" fill="#000"/>
<circle cx="1885.6" cy="801.6" r="4" fill="#000"/>
<circle cx="1914.8" cy="801.6" r="4" fill="#000"/>
<circle cx="1943.8" cy="801.6" r="4" fill="#000"/>
<rect x="1718.70" y="912.80" width="50.30" height="47.00" fill="#000000" stroke="#000" stroke-width="1.8"/>
<rect x="1718.70" y="959.80" width="50.30" height="46.60" fill="#ffffff" stroke="#000" stroke-width="1.8"/>
<rect x="1769.00" y="912.80" width="50.40" height="47.00" fill="#666666" stroke="#000" stroke-width="1.8"/>
<rect x="1769.00" y="959.80" width="50.40" height="46.60" fill="#efefef" stroke="#000" stroke-width="1.8"/>
<rect x="1819.40" y="912.80" width="52.40" height="47.00" fill="#999999" stroke="#000" stroke-width="1.8"/>
<rect x="1819.40" y="959.80" width="52.40" height="46.60" fill="#f0f0f0" stroke="#000" stroke-width="1.8"/>
<rect x="1871.80" y="912.80" width="52.60" height="47.00" fill="#b7b7b7" stroke="#000" stroke-width="1.8"/>
<rect x="1871.80" y="959.80" width="52.60" height="46.60" fill="#d9d9d9" stroke="#000" stroke-width="1.8"/>
<text x="1538.6" y="942.0" font-size="21.5" text-anchor="start" font-weight="normal" fill="#000" textLength="147.5" lengthAdjust="spacingAndGlyphs">Keep sampling</text>
<text x="1538.4" y="986.4" font-size="21.5" text-anchor="start" font-weight="normal" fill="#000" textLength="153.5" lengthAdjust="spacingAndGlyphs">Break sampling</text>
<text x="1513.1" y="529.6" font-size="34" text-anchor="middle" font-weight="normal" fill="#000" textLength="328" lengthAdjust="spacingAndGlyphs">Single Trial Schematic</text>
<text x="1280.3" y="578.8" font-size="34" text-anchor="middle" font-weight="normal" fill="#000" textLength="107" lengthAdjust="spacingAndGlyphs">Level 2</text>
<text x="1732" y="578.8" font-size="34" text-anchor="middle" font-weight="normal" fill="#000" textLength="106.5" lengthAdjust="spacingAndGlyphs">Level 1</text>
<text x="1012" y="568.2" font-size="36.5" text-anchor="middle" font-weight="bold" fill="#000">C</text>
</g>
</svg>
</body>
</html>
